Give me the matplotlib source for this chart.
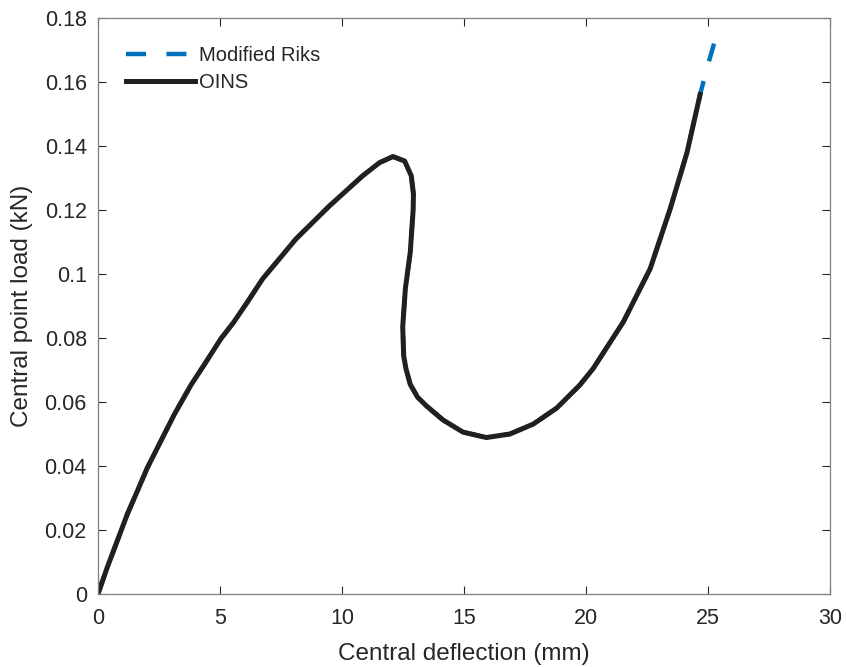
import matplotlib.pyplot as plt
import numpy as np
from matplotlib.ticker import FormatStrFormatter

plt.rcParams['font.family'] = ['Liberation Sans', 'DejaVu Sans']

# OINS path (central deflection mm, central load kN)
oins_x = np.array([0, 0.38, 0.79, 1.20, 1.61, 2.02, 2.57, 3.12, 3.81, 4.35, 5.04,
                   5.55, 6.13, 6.75, 8.12, 9.49, 10.85, 11.54, 12.09, 12.57, 12.84,
                   12.93, 12.92, 12.80, 12.60, 12.49, 12.53, 12.62, 12.80, 13.10,
                   13.46, 14.14, 14.96, 15.92, 16.88, 17.84, 18.80, 19.75, 20.30,
                   21.53, 22.63, 23.45, 24.14, 24.68])
oins_y = np.array([0, 0.0083, 0.0166, 0.0249, 0.0321, 0.0394, 0.0477, 0.0560, 0.0653,
                   0.0716, 0.0798, 0.0848, 0.0913, 0.0985, 0.1110, 0.1213, 0.1307,
                   0.1348, 0.1367, 0.1353, 0.1307, 0.1250, 0.1203, 0.1068, 0.0955,
                   0.0835, 0.0745, 0.0705, 0.0655, 0.0615, 0.0588, 0.0544, 0.0506,
                   0.0489, 0.0500, 0.0531, 0.0581, 0.0653, 0.0705, 0.0850, 0.1016,
                   0.1203, 0.1379, 0.1561])
# Modified Riks runs a little further
riks_x = np.append(oins_x, [24.95, 25.25])
riks_y = np.append(oins_y, [0.1640, 0.1720])

fig = plt.figure(figsize=(8.46, 6.67), dpi=100)
ax = fig.add_axes([0.1158, 0.1094, 0.8652, 0.8636])
gc = '#262626'

ax.plot(riks_x, riks_y, color='#0072BD', lw=3.2, ls=(0, (4.5, 4.6)),
        label='Modified Riks')
ax.plot(oins_x, oins_y, '-', color='#231F20', lw=3.6, solid_joinstyle='round',
        label='OINS')

ax.set_xlim(0, 30)
ax.set_ylim(0, 0.18)
ax.set_xticks(np.arange(0, 31, 5))
ax.set_yticks(np.arange(0, 0.181, 0.02))
ax.yaxis.set_major_formatter(FormatStrFormatter('%g'))
ax.tick_params(direction='in', top=True, right=True, labelsize=15.5, colors=gc,
               length=6, width=0.8)
ax.tick_params(axis='x', pad=10)
ax.tick_params(axis='y', pad=8)
for s in ax.spines.values():
    s.set_color('#7f7f7f')
    s.set_linewidth(0.9)
ax.set_xlabel('Central deflection (mm)', fontsize=17.5, color=gc, labelpad=10)
ax.set_ylabel('Central point load (kN)', fontsize=17.5, color=gc, labelpad=8)
leg = ax.legend(loc='upper left', frameon=False, fontsize=14.5, handlelength=3.4,
                handletextpad=0.2, borderaxespad=1.0, labelspacing=0.4,
                borderpad=0.4)
for t in leg.get_texts():
    t.set_color(gc)

plt.savefig('out.png', dpi=100)
